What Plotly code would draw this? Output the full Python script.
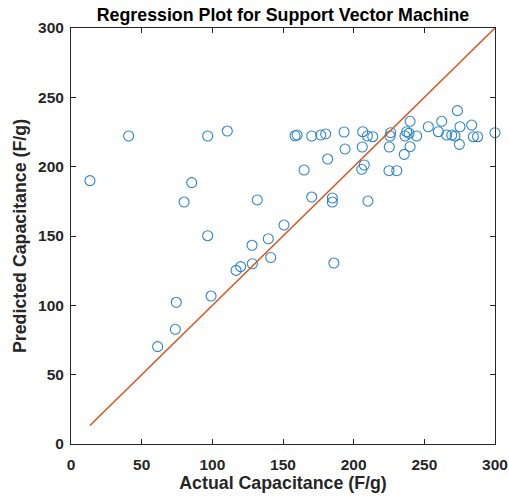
import plotly.graph_objects as go

actual = [13.4, 40.8, 96.7, 85.4, 80.0, 96.7, 110.6, 158.5, 160.0, 170.3, 176.7, 180.2,
          193.2, 193.9, 181.6, 164.9, 131.8, 170.3, 184.9, 184.9, 150.7, 139.6, 128.1,
          141.3, 186.0, 273.4, 239.9, 262.3, 252.8, 283.5, 275.2, 206.4, 209.7, 213.5,
          226.2, 225.7, 237.5, 239.2, 236.3, 244.6, 259.9, 265.8, 269.4, 271.7, 284.7,
          287.7, 300.0, 274.8, 206.1, 225.2, 239.9, 235.8, 207.5, 205.7, 225.0, 230.5,
          210.1, 116.8, 120.0, 128.3, 99.1, 74.5, 73.8, 61.3]
predicted = [189.9, 222.1, 222.1, 188.5, 174.5, 150.2, 225.7, 222.3, 222.8, 222.1, 222.8, 223.6,
             225.0, 212.7, 205.5, 197.6, 176.0, 178.1, 177.4, 174.5, 157.9, 148.0, 143.3,
             134.5, 130.5, 240.4, 232.7, 232.7, 228.8, 230.0, 228.8, 225.2, 222.1, 221.6,
             224.5, 222.1, 225.2, 224.0, 222.1, 222.1, 225.2, 222.8, 222.8, 222.1, 221.6,
             221.6, 224.5, 216.1, 214.2, 214.2, 214.4, 208.9, 201.2, 198.1, 197.1, 197.1,
             175.2, 125.2, 127.9, 130.0, 106.7, 102.2, 82.7, 70.2]

line_x = [min(actual), max(actual)]
line_y = line_x

x_ticks = [0, 50, 100, 150, 200, 250, 300]
y_ticks = [0, 50, 100, 150, 200, 250, 300]

FONT = "Liberation Sans, Arial, sans-serif"

fig = go.Figure()
fig.add_trace(go.Scatter(x=actual, y=predicted, mode="markers",
                         marker=dict(symbol="circle-open", size=10, color="#2E86C8",
                                     line=dict(width=1.1, color="#2E86C8")),
                         showlegend=False, cliponaxis=False))
fig.add_trace(go.Scatter(x=line_x, y=line_y, mode="lines",
                         line=dict(color="#D95319", width=1.5), showlegend=False))

axis_common = dict(showline=True, mirror="ticks", linecolor="#262626", linewidth=1,
                   ticks="inside", ticklen=5, tickcolor="#262626", showgrid=False,
                   zeroline=False, automargin=False,
                   tickfont=dict(family=FONT, size=15.5, color="#262626"))

fig.update_layout(
    width=509, height=497,
    margin=dict(l=71, r=14, t=28, b=53),
    plot_bgcolor="white", paper_bgcolor="white",
    showlegend=False,
    title=dict(text="<b>Regression Plot for Support Vector Machine</b>", xref="paper", x=0.5,
               xanchor="center", yref="container", y=1 - 15 / 497, yanchor="middle",
               font=dict(family=FONT, size=17.8, color="black")),
    xaxis=dict(range=[0, 300], tickvals=x_ticks, ticktext=[f"<b>{v}</b>" for v in x_ticks],
               ticklabelstandoff=6,
               title=dict(text="<b>Actual Capacitance (F/g)</b>", standoff=2,
                          font=dict(family=FONT, size=17.8, color="#262626")),
               **axis_common),
    yaxis=dict(range=[0, 300], tickvals=y_ticks, ticktext=[f"<b>{v}</b>" for v in y_ticks],
               ticklabelstandoff=3,
               title=dict(text="<b>Predicted Capacitance (F/g)</b>", standoff=6,
                          font=dict(family=FONT, size=17.8, color="#262626")),
               **axis_common),
)

fig.write_html("out.html")
